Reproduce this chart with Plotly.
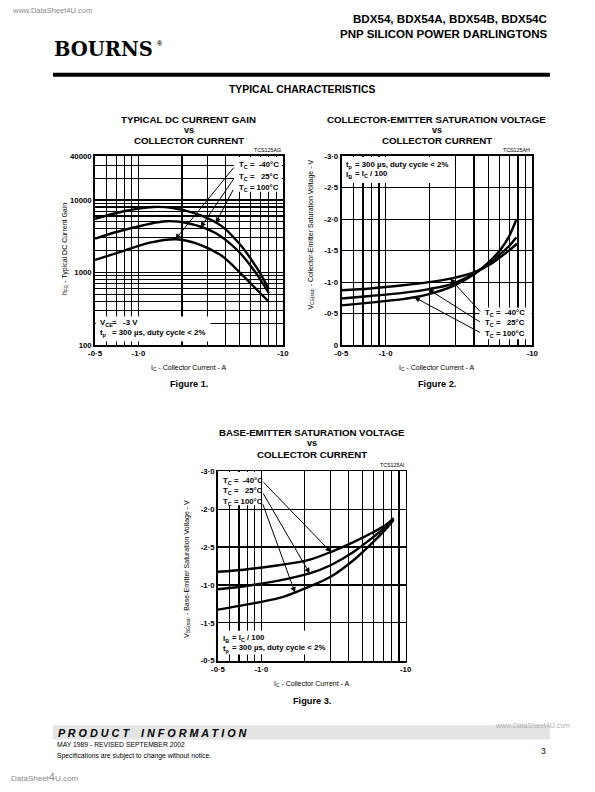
import numpy as np
import plotly.graph_objects as go

# ---------------- data ----------------
# Figure 1 : typical DC current gain hFE vs collector current |Ic| (A), VCE = -3 V
ic_gain_100 = [0.5, 0.79, 1.26, 1.73, 2.62, 3.77, 5.14, 6.67, 8.0]
hfe_100 = [5490, 6980, 8000, 7750, 6280, 4360, 2330, 1120, 590]
ic_gain_25 = [0.5, 0.79, 1.55, 2.24, 3.39, 4.89, 6.34, 8.0]
hfe_25 = [2930, 3850, 5090, 4740, 3530, 1990, 1060, 520]
ic_gain_m40 = [0.5, 0.79, 1.2, 1.82, 2.62, 3.77, 5.14, 6.67, 8.0]
hfe_m40 = [1490, 1990, 2580, 2870, 2450, 1700, 960, 570, 395]

# Figure 2 : VCE(sat) vs |Ic|
ic_vce_m40 = [0.5, 0.785, 1.31, 1.97, 2.82, 4.04, 5.22, 6.08, 6.92, 7.87]
vce_m40 = [-0.87, -0.90, -0.95, -1.0, -1.06, -1.16, -1.29, -1.40, -1.50, -1.61]
ic_vce_25 = [0.5, 0.785, 1.31, 1.97, 2.82, 4.04, 5.22, 6.08, 6.92, 7.78]
vce_25 = [-0.74, -0.78, -0.83, -0.89, -0.97, -1.14, -1.31, -1.45, -1.57, -1.71]
ic_vce_100 = [0.5, 0.785, 1.31, 1.57, 1.97, 2.82, 4.04, 5.22, 6.08, 6.92, 7.78]
vce_100 = [-0.63, -0.675, -0.73, -0.76, -0.81, -0.93, -1.13, -1.35, -1.52, -1.72, -1.99]

# Figure 3 : VBE(sat) vs |Ic|
ic_vbe_m40 = [0.5, 0.782, 1.316, 2.10, 3.02, 4.35, 5.95, 7.32, 8.25]
vbe_m40 = [-1.674, -1.705, -1.761, -1.827, -1.935, -2.066, -2.196, -2.296, -2.383]
ic_vbe_25 = [0.5, 0.782, 1.316, 2.16, 3.02, 4.35, 5.95, 7.32, 8.25]
vbe_25 = [-1.444, -1.487, -1.557, -1.653, -1.761, -1.935, -2.131, -2.27, -2.37]
ic_vbe_100 = [0.5, 0.782, 1.316, 1.706, 2.21, 3.02, 4.35, 5.95, 7.32, 8.25]
vbe_100 = [-1.174, -1.24, -1.326, -1.40, -1.487, -1.609, -1.827, -2.066, -2.24, -2.357]

# collector current where each temperature arrow touches its curve
arrow_ic_gain = {"m40": 1.8, "25": 2.69, "100": 3.43}
arrow_ic_vce = {"m40": 2.75, "25": 1.95, "100": 1.57}
arrow_ic_vbe = {"m40": 3.03, "25": 2.16, "100": 1.71}

# axis ticks / labels
x_ticks = [0.5, 1, 10]
x_labels = ["-0·5", "-1·0", "-10"]
x_minor = [0.6, 0.7, 0.8, 0.9, 2, 3, 4, 5, 6, 7, 8, 9]
gain_ticks = [100, 1000, 10000, 40000]
gain_labels = ["100", "1000", "10000", "40000"]
gain_minor = [200, 300, 400, 500, 600, 700, 800, 900,
              2000, 3000, 4000, 5000, 6000, 7000, 8000, 9000, 20000, 30000]
vce_ticks = [-3.0, -2.5, -2.0, -1.5, -1.0, -0.5, 0]
vce_labels = ["-3·0", "-2·5", "-2·0", "-1·5", "-1·0", "-0·5", "0"]
vbe_ticks = [-3.0, -2.5, -2.0, -1.5, -1.0, -0.5]
vbe_labels = ["-3·0", "-2·0", "-2·5", "-1·0", "-1·5", "-0·5"]   # as printed

temps = ["-40", "25", "100"]

# ---------------- layout helpers ----------------
W, H = 595, 792
FONT = "Liberation Sans, Arial, Helvetica, sans-serif"


def fx(p):
    return p / W


def fy(p):
    return 1 - p / H


# plot boxes in page pixels: (left, right, top, bottom)
B1 = (90, 282, 154, 345)
B2 = (342, 537, 154, 345)
B3 = (215.7, 407.5, 472.7, 664.3)

XR = [np.log10(0.5), 1.0]
YR = {1: [2, np.log10(40000)], 2: [0, -3.0], 3: [-0.5, -3.0]}
YLOG = {1: True, 2: False, 3: False}
BOX = {1: B1, 2: B2, 3: B3}


def lin(p, p0, p1, v0, v1):
    return v0 + (p - p0) / (p1 - p0) * (v1 - v0)


fig = go.Figure()

black = dict(color="black", width=2.4, shape="spline", smoothing=0.9)
for x, y in [(ic_gain_100, hfe_100), (ic_gain_25, hfe_25), (ic_gain_m40, hfe_m40)]:
    fig.add_trace(go.Scatter(x=x, y=y, mode="lines", line=black, xaxis="x", yaxis="y",
                             hoverinfo="skip", showlegend=False))
for x, y in [(ic_vce_m40, vce_m40), (ic_vce_25, vce_25), (ic_vce_100, vce_100)]:
    fig.add_trace(go.Scatter(x=x, y=y, mode="lines", line=black, xaxis="x2", yaxis="y2",
                             hoverinfo="skip", showlegend=False))
for x, y in [(ic_vbe_m40, vbe_m40), (ic_vbe_25, vbe_25), (ic_vbe_100, vbe_100)]:
    fig.add_trace(go.Scatter(x=x, y=y, mode="lines", line=black, xaxis="x3", yaxis="y3",
                             hoverinfo="skip", showlegend=False))

tickf = dict(family=FONT, size=7.8, color="black", weight="bold")
GW = 1.2


def xaxis(box, anchor):
    return dict(type="log", range=XR, domain=[fx(box[0]), fx(box[1])], anchor=anchor,
                tickvals=x_ticks, ticktext=x_labels, ticks="", showgrid=True,
                gridcolor="black", gridwidth=GW,
                minor=dict(tickvals=x_minor, showgrid=True, gridcolor="black",
                           gridwidth=GW, ticks=""),
                showline=True, mirror=True,
                linecolor="black", linewidth=1.8, zeroline=False, tickfont=tickf,
                fixedrange=True)


def yaxis(box, anchor, minor_vals=None, **kw):
    d = dict(domain=[fy(box[3]), fy(box[2])], anchor=anchor, ticks="", showgrid=True,
             gridcolor="black", gridwidth=GW, showline=True, mirror=True,
             linecolor="black", linewidth=1.8, zeroline=False, tickfont=tickf,
             fixedrange=True)
    if minor_vals is not None:
        d["minor"] = dict(tickvals=minor_vals, showgrid=True, gridcolor="black",
                          gridwidth=GW, ticks="")
    d.update(kw)
    return d


layout = dict(
    width=W, height=H, autosize=False, margin=dict(l=0, r=0, t=0, b=0),
    paper_bgcolor="white", plot_bgcolor="white", showlegend=False,
    xaxis=xaxis(B1, "y"),
    yaxis=yaxis(B1, "x", minor_vals=gain_minor, type="log", range=YR[1],
                tickvals=gain_ticks, ticktext=gain_labels),
    xaxis2=xaxis(B2, "y2"),
    yaxis2=yaxis(B2, "x2", range=YR[2], tickvals=vce_ticks, ticktext=vce_labels),
    xaxis3=xaxis(B3, "y3"),
    yaxis3=yaxis(B3, "x3", range=YR[3], tickvals=vbe_ticks, ticktext=vbe_labels),
)
fig.update_layout(**layout)


def page_to_data(k, xp, yp):
    """page pixel -> data value of subplot k (log axes give real values)"""
    l, r, t, b = BOX[k]
    xv = 10 ** lin(xp, l, r, XR[0], XR[1])
    yv = lin(yp, b, t, YR[k][0], YR[k][1])
    if YLOG[k]:
        yv = 10 ** yv
    return xv, yv


shapes = []


def white_box(k, x0, x1, y0, y1):
    """white patch laid over the grid but under the curves of subplot k"""
    suf = "" if k == 1 else str(k)
    ax0, ay0 = page_to_data(k, x0, y0)
    ax1, ay1 = page_to_data(k, x1, y1)
    shapes.append(dict(type="rect", xref="x" + suf, yref="y" + suf, layer="between",
                       x0=ax0, x1=ax1, y0=ay0, y1=ay1,
                       fillcolor="white", line=dict(width=0)))


white_box(1, 232, 281.2, 154.8, 190)      # fig1 temp labels
white_box(1, 90.8, 208, 316, 341.5)       # fig1 conditions
white_box(2, 342.8, 456, 154.8, 181)      # fig2 conditions
white_box(2, 483, 536.2, 307, 339)        # fig2 temp labels
white_box(3, 216.5, 259, 473.5, 507)      # fig3 temp labels
white_box(3, 216.5, 328, 634, 658)        # fig3 conditions

# header rule and footer band
shapes.append(dict(type="rect", xref="paper", yref="paper", x0=fx(47), x1=fx(555),
                   y0=fy(73.5), y1=fy(69.5), fillcolor="black", line=dict(width=0)))
shapes.append(dict(type="rect", xref="paper", yref="paper", x0=fx(47), x1=fx(555),
                   y0=fy(744), y1=fy(729.5), fillcolor="#e4e4e4", line=dict(width=0)))
fig.update_layout(shapes=shapes)

ann = []


def text(x, y, s, size=7, bold=False, xanchor="left", color="black", italic=False,
         angle=0, family=FONT, yanchor="middle"):
    f = dict(family=family, size=size, color=color)
    if bold:
        f["weight"] = "bold"
    if italic:
        f["style"] = "italic"
    ann.append(dict(xref="paper", yref="paper", x=fx(x), y=fy(y), text=s, showarrow=False,
                    xanchor=xanchor, yanchor=yanchor, font=f, textangle=angle))


# ---- page header / footer ----
text(3, 7, "www.DataSheet4U.com", size=7.5, color="#8a8a8a")
text(555, 15, "BDX54, BDX54A, BDX54B, BDX54C", size=11.6, bold=True, xanchor="right")
text(555, 30.5, "PNP SILICON POWER DARLINGTONS", size=11.5, bold=True, xanchor="right")
text(46, 46, "BOURNS", size=19.5, bold=True, family="DejaVu Serif, serif")
text(151, 40, "®", size=7, bold=True)
text(302, 86, "TYPICAL CHARACTERISTICS", size=10.4, bold=True, xanchor="center")

text(497, 730, "www.DataSheet4U.com", size=7, color="#b0b0b0")
text(50, 737, "P R O D U C T&#160;&#160;&#160;&#160;I N F O R M A T I O N", size=10.8,
     bold=True, italic=True)
text(49, 749.5, "MAY 1989 - REVISED SEPTEMBER 2002", size=6.8)
text(49, 760.5, "Specifications are subject to change without notice.", size=6.8)
text(553, 756, "3", size=8.5, xanchor="right")
text(2, 782, "DataSheet<span style='font-size:11px'>4</span>U.com", size=8, color="#8a8a8a")

# ---- chart titles ----
titles = [
    (B1, ["TYPICAL DC CURRENT GAIN", "vs", "COLLECTOR CURRENT"], 118, "TCS125AG", "Figure 1.", 384),
    (B2, ["COLLECTOR-EMITTER SATURATION VOLTAGE", "vs", "COLLECTOR CURRENT"], 118, "TCS125AH", "Figure 2.", 384),
    (B3, ["BASE-EMITTER SATURATION VOLTAGE", "vs", "COLLECTOR CURRENT"], 435, "TCS125AI", "Figure 3.", 705),
]
for box, lines, y0, code, figname, yfig in titles:
    cx = (box[0] + box[1]) / 2
    for i, s in enumerate(lines):
        text(cx, y0 + [-1.5, 9.5, 20.5][i], s, size=9.7 if i != 1 else 9, bold=True,
             xanchor="center")
    text(box[1], box[2] - 6.5, code, size=5.3, xanchor="right")
    text(cx, box[3] + 23.5, "I<sub>C</sub> - Collector Current - A", size=7, xanchor="center")
    text(cx, yfig, figname, size=9.2, bold=True, xanchor="center")

text(59, 248, "h<sub>FE</sub> - Typical DC Current Gain", size=7, xanchor="center", angle=-90)
text(311, 233, "V<sub>CE(sat)</sub> - Collector-Emitter Saturation Voltage - V", size=7,
     xanchor="center", angle=-90)
text(183.5, 571, "V<sub>BE(sat)</sub> - Base-Emitter Saturation Voltage - V", size=7,
     xanchor="center", angle=-90)

NB = "\u00a0"
tc_labels = {"-40": "T<sub>C</sub> =" + NB * 2 + "-40°C",
             "25": "T<sub>C</sub> =" + NB * 3 + "25°C",
             "100": "T<sub>C</sub> = 100°C"}

# conditions text
text(93, 323, "V<sub>CE</sub>", size=7.8, bold=True)
text(105.5, 322, "=" + NB * 3 + "-3 V", size=7.8, bold=True)
text(93, 333, "t<sub>p</sub>", size=7.8, bold=True)
text(105.5, 332, "= 300 µs, duty cycle &lt; 2%", size=7.8, bold=True)

text(345, 163, "t<sub>p</sub>", size=7.8, bold=True)
text(354, 162, "= 300 µs, duty cycle &lt; 2%", size=7.8, bold=True)
text(345, 173, "I<sub>B</sub>", size=7.8, bold=True)
text(354, 172, "= I<sub>C</sub> / 100", size=7.8, bold=True)

text(219, 642, "I<sub>B</sub>", size=7.8, bold=True)
text(228, 641, "= I<sub>C</sub> / 100", size=7.8, bold=True)
text(219, 652, "t<sub>p</sub>", size=7.8, bold=True)
text(228, 651, "= 300 µs, duty cycle &lt; 2%", size=7.8, bold=True)

# temperature labels + arrows
curves = {
    1: {"m40": (ic_gain_m40, hfe_m40), "25": (ic_gain_25, hfe_25), "100": (ic_gain_100, hfe_100)},
    2: {"m40": (ic_vce_m40, vce_m40), "25": (ic_vce_25, vce_25), "100": (ic_vce_100, vce_100)},
    3: {"m40": (ic_vbe_m40, vbe_m40), "25": (ic_vbe_25, vbe_25), "100": (ic_vbe_100, vbe_100)},
}
label_pos = {
    1: {"m40": (235, 163), "25": (235, 174.5), "100": (235, 186)},
    2: {"m40": (486.5, 312.5), "25": (486.5, 323), "100": (486.5, 333.5)},
    3: {"m40": (218.5, 482), "25": (218.5, 493), "100": (218.5, 504)},
}
tail_pos = {
    1: {"m40": (233, 164), "25": (233, 175), "100": (232, 186.5)},
    2: {"m40": (485, 312.5), "25": (485, 322.5), "100": (485, 333)},
    3: {"m40": (261, 482.5), "25": (261, 493.5), "100": (261, 504.5)},
}
tips = {1: arrow_ic_gain, 2: arrow_ic_vce, 3: arrow_ic_vbe}

for k in (1, 2, 3):
    box = BOX[k]
    suf = "" if k == 1 else str(k)
    for key, tname in zip(["m40", "25", "100"], temps):
        lx, ly = label_pos[k][key]
        text(lx, ly, tc_labels[tname], size=7.8, bold=True)
        cx, cy = curves[k][key]
        tip_ic = tips[k][key]
        if YLOG[k]:
            tip_y = np.interp(np.log10(tip_ic), np.log10(cx), np.log10(cy))
        else:
            tip_y = np.interp(np.log10(tip_ic), np.log10(cx), cy)
        tx, ty = tail_pos[k][key]
        ax = lin(tx, box[0], box[1], XR[0], XR[1])
        ay = lin(ty, box[3], box[2], YR[k][0], YR[k][1])
        ann.append(dict(xref="x" + suf, yref="y" + suf, axref="x" + suf, ayref="y" + suf,
                        x=float(np.log10(tip_ic)), y=float(tip_y), ax=float(ax), ay=float(ay),
                        text="", showarrow=True, arrowhead=2, arrowsize=1.1, arrowwidth=1,
                        arrowcolor="black", standoff=0))

fig.update_layout(annotations=ann)
fig.write_html("out.html", config={"displayModeBar": False, "staticPlot": True},
               post_script="document.body.style.margin='0';document.body.style.padding='0';")
